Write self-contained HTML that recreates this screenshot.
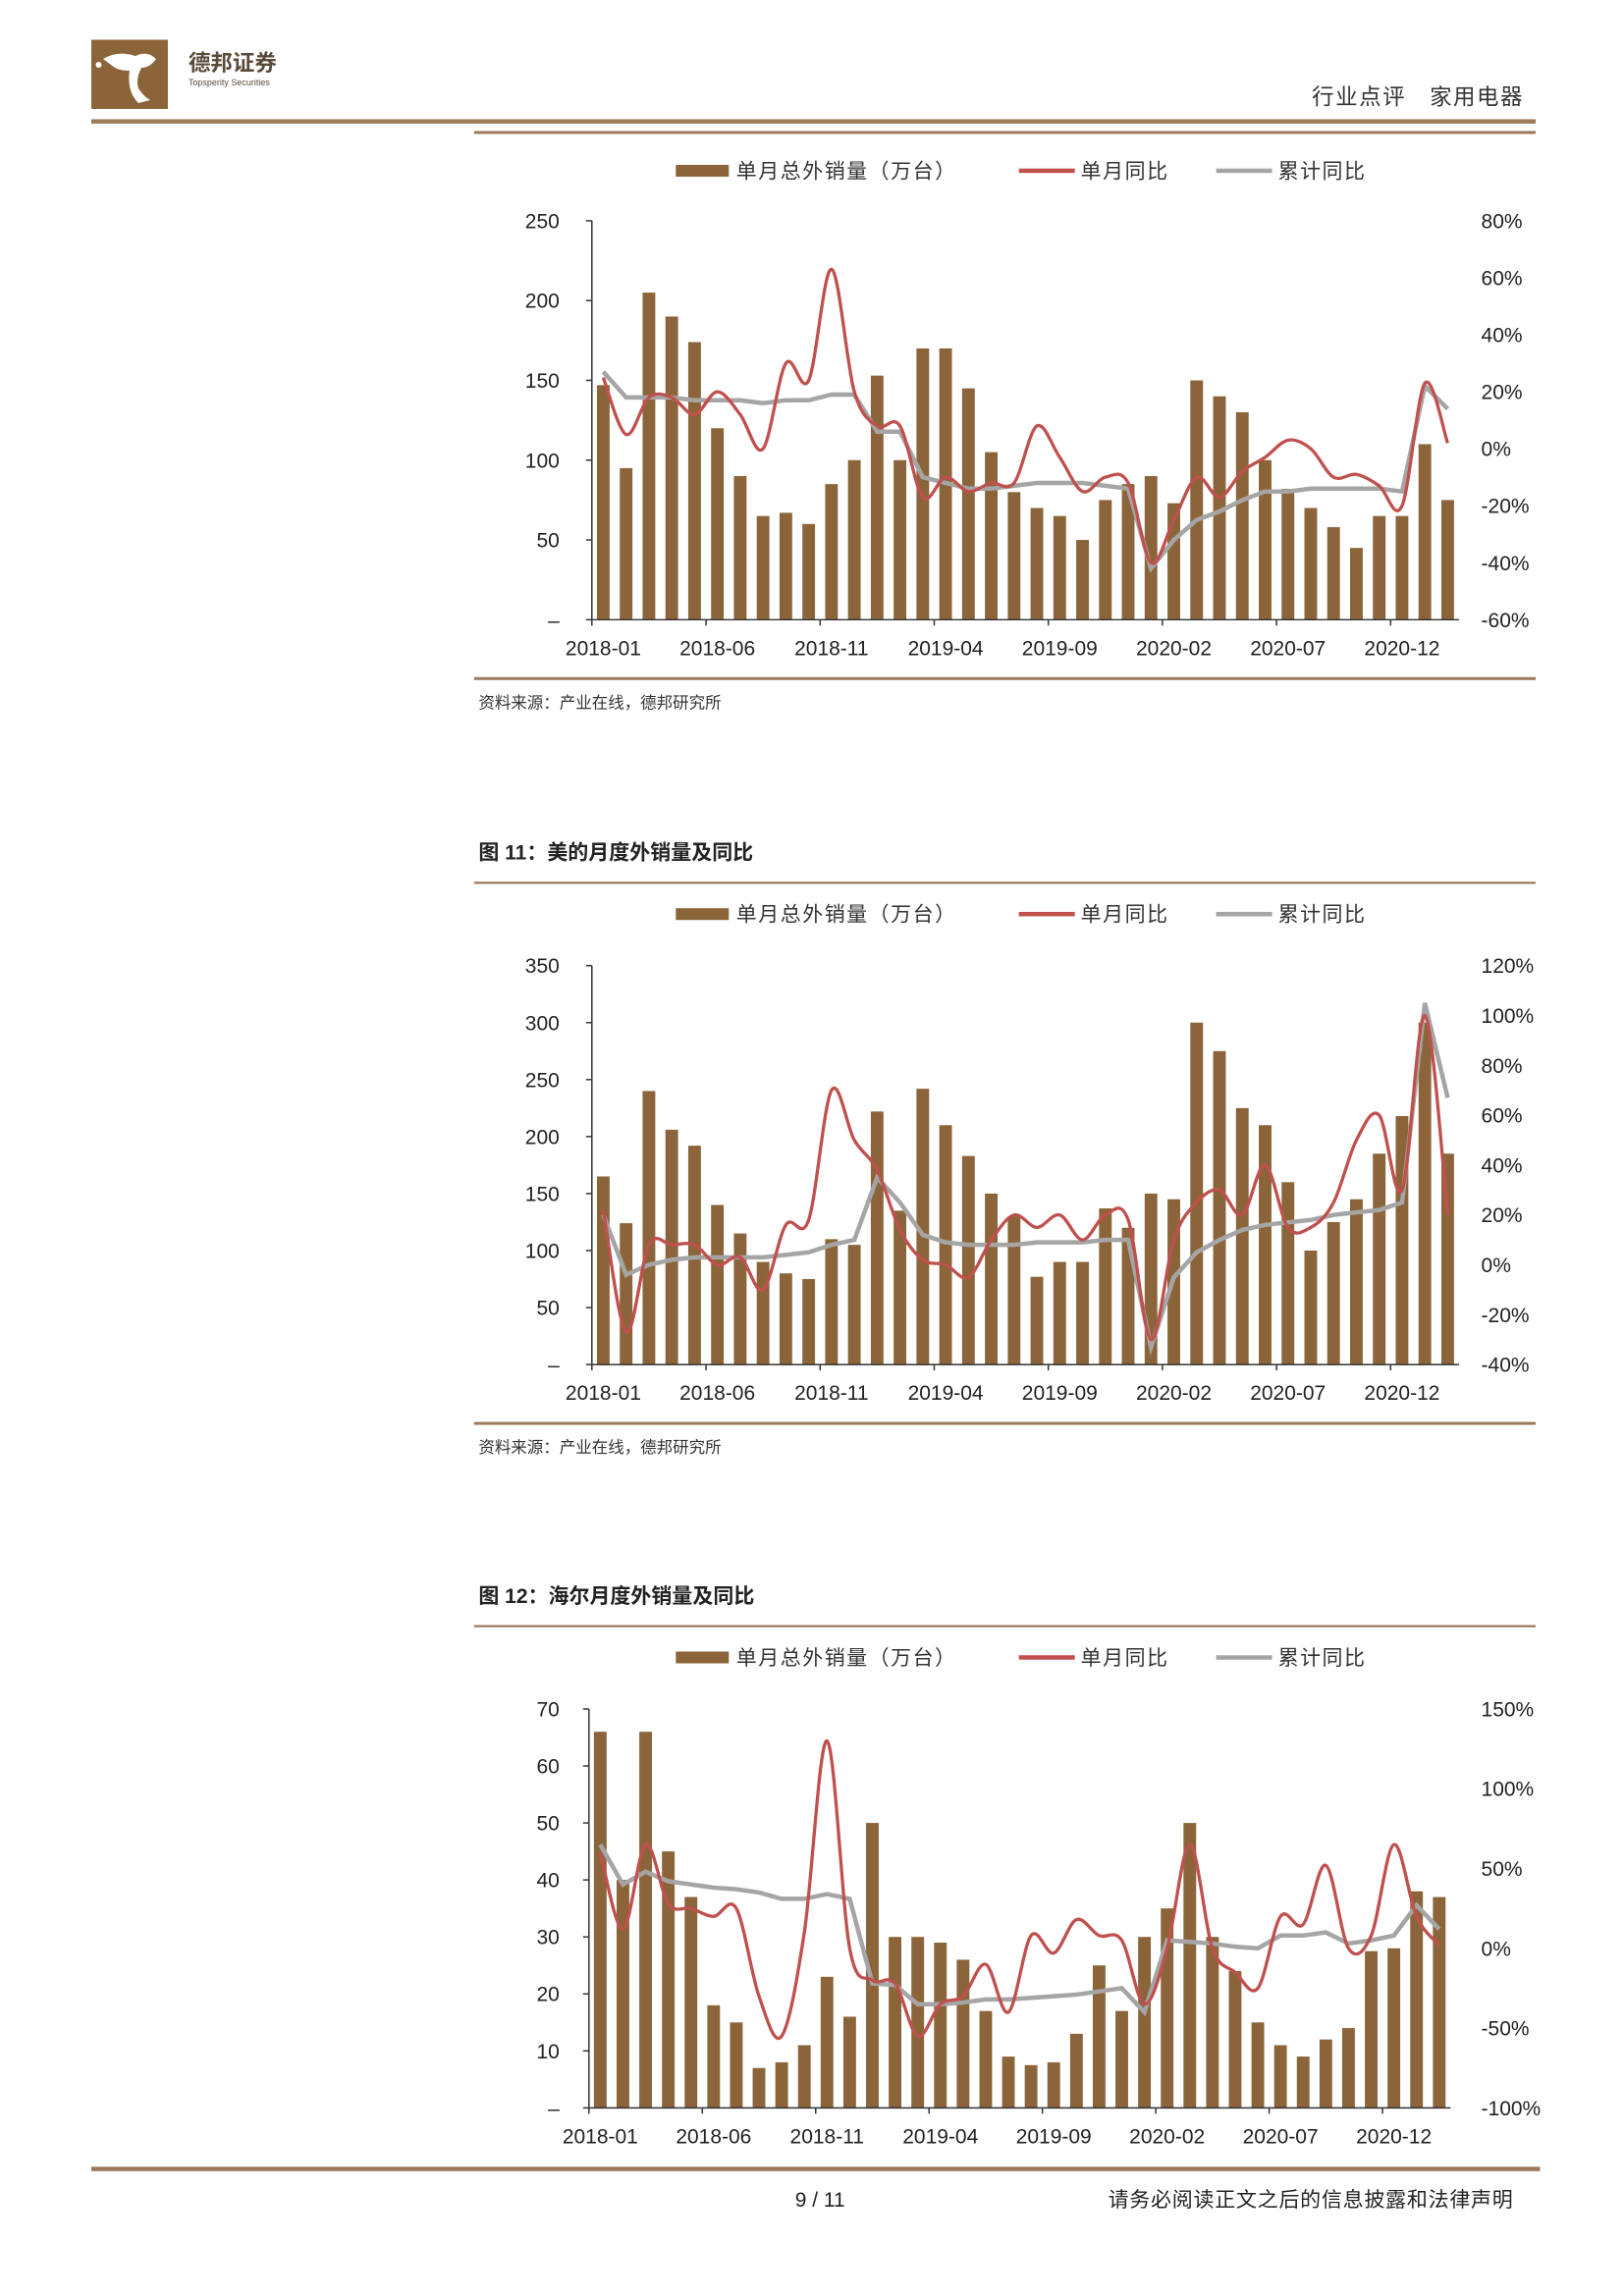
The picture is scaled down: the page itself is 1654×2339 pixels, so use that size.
<!DOCTYPE html>
<html><head><meta charset="utf-8">
<style>
html,body{margin:0;padding:0;background:#fff;overflow:hidden;width:1654px;height:2339px;}
svg{display:block;font-family:"Liberation Sans","Noto Sans CJK SC",sans-serif;}
</style></head>
<body>
<svg id="pg" width="1654" height="2339" viewBox="0 0 1103 1559.8" xmlns="http://www.w3.org/2000/svg">
<g>
  <rect x="62" y="27" width="52" height="47" fill="#8B6539"/>
  <path d="M70 40 q10 -6 22 -2 q8 -4 14 2 q-4 6 -10 6 q-4 8 -2 14 q4 6 8 8 l-8 2 q-8 -8 -6 -22 q-6 0 -10 -2z" fill="#fff"/>
  <circle cx="67" cy="44" r="2" fill="#fff"/>
  <text x="128" y="48" font-size="15" font-weight="bold" fill="#5a4a3a">德邦证券</text>
  <text x="128" y="58" font-size="6" fill="#5a4a3a">Topsperity Securities</text>
  <text x="1035" y="71" font-size="15" fill="#333" text-anchor="end" letter-spacing="1">行业点评　家用电器</text>
  <rect x="62" y="81" width="981" height="3" fill="#9c7a5a"/>
  <rect x="322" y="89" width="721" height="2" fill="#9c7a5a"/>
</g>
<g id="charts"></g>
<g>
  <rect x="62" y="1472" width="984" height="3" fill="#9c7a5a"/>
  <text x="557" y="1499" font-size="14" text-anchor="middle" fill="#222">9 / 11</text>
  <text x="1028" y="1499" font-size="14" text-anchor="end" fill="#222" letter-spacing="0.5">请务必阅读正文之后的信息披露和法律声明</text>
</g>
</svg>
<script>
const xLabels=["2018-01","2018-06","2018-11","2019-04","2019-09","2020-02","2020-07","2020-12"];
const c1Bars=[147,95,205,190,174,120,90,65,67,60,85,100,153,100,170,170,145,105,80,70,65,50,75,85,90,73,150,140,130,100,82,70,58,45,65,65,110,75];
const c1Red=[25,5,18,18,12,20,12,0,30,24,63,20,8,8,-17,-10,-15,-12,-12,8,-3,-15,-10,-12,-40,-25,-10,-17,-8,-3,3,0,-10,-9,-13,-20,23,2];
const c1Gray=[27,18,18,18,17,17,17,16,17,17,19,19,6,6,-10,-12,-14,-14,-13,-12,-12,-12,-13,-14,-42,-32,-25,-22,-18,-15,-15,-14,-14,-14,-14,-15,22,14];
const c1LeftTicks=["–","50","100","150","200","250"];
const c1RightTicks=["-60%","-40%","-20%","0%","20%","40%","60%","80%"];
const c2Bars=[165,124,240,206,192,140,115,90,80,75,110,105,222,135,242,210,183,150,130,77,90,90,137,120,150,145,300,275,225,210,160,100,125,145,185,218,300,185];
const c2Red=[22,-27,8,8,8,0,3,-10,16,18,70,50,38,14,2,0,-5,10,20,15,20,10,20,18,-30,10,25,30,20,40,15,15,25,50,60,30,100,20];
const c2Gray=[20,-4,0,2,3,3,3,3,4,5,8,10,35,25,12,9,8,8,8,9,9,9,10,10,-33,-5,5,10,14,16,17,18,20,21,22,25,105,67];
const c2LeftTicks=["–","50","100","150","200","250","300","350"];
const c2RightTicks=["-40%","-20%","0%","20%","40%","60%","80%","100%","120%"];
const c3Bars=[66,40,66,45,37,18,15,7,8,11,23,16,50,30,30,29,26,17,9,7.5,8,13,25,17,30,35,50,30,24,15,11,9,12,14,27.5,28,38,37];
const c3Red=[60,12,65,28,25,20,25,-30,-55,10,130,0,-20,-22,-55,-35,-30,-10,-40,8,-3,18,8,5,-35,0,65,0,-15,-25,20,15,52,0,8,65,20,2];
const c3Gray=[65,40,48,42,40,38,37,35,31,31,34,31,-22,-23,-35,-35,-34,-32,-32,-31,-30,-29,-27,-25,-40,5,4,3,1,0,8,8,10,3,5,8,27,12];
const c3LeftTicks=["–","10","20","30","40","50","60","70"];
const c3RightTicks=["-100%","-50%","0%","50%","100%","150%"];

const NS="http://www.w3.org/2000/svg";
const root=document.getElementById('charts');
function mk(tag,attrs,parent,txt){const e=document.createElementNS(NS,tag);for(const k in attrs)e.setAttribute(k,attrs[k]);if(txt!==undefined)e.textContent=txt;(parent||root).appendChild(e);return e;}
function smooth(pts){let d="M"+pts[0][0]+" "+pts[0][1];for(let i=0;i<pts.length-1;i++){const p0=pts[i-1]||pts[i],p1=pts[i],p2=pts[i+1],p3=pts[i+2]||p2;const t=1/6;d+=" C"+(p1[0]+(p2[0]-p0[0])*t)+" "+(p1[1]+(p2[1]-p0[1])*t)+" "+(p2[0]-(p3[0]-p1[0])*t)+" "+(p2[1]-(p3[1]-p1[1])*t)+" "+p2[0]+" "+p2[1];}return d;}

function chart(o){
  const g=mk('g',{});
  
  
  if(o.title){const t=mk('text',{x:325,y:o.titleY,'font-size':14,'font-weight':'bold',fill:'#222'},g,o.title);
    mk('rect',{x:322,y:o.titleY+15,width:721,height:1.5,fill:'#9c7a5a'},g);}
  const lg=mk('g',{},g);
  const ly=o.legendY;
  mk('rect',{x:459,y:ly-4,width:36,height:8,fill:'#8B6539'},lg);
  mk('text',{x:500,y:ly+5,'font-size':14,fill:'#333','letter-spacing':'1'},lg,'单月总外销量（万台）');
  mk('rect',{x:692,y:ly-1.5,width:38,height:3,fill:'#C0504D'},lg);
  mk('text',{x:734,y:ly+5,'font-size':14,fill:'#333','letter-spacing':'1'},lg,'单月同比');
  mk('rect',{x:826,y:ly-1.5,width:38,height:3,fill:'#A5A5A5'},lg);
  mk('text',{x:868,y:ly+5,'font-size':14,fill:'#333','letter-spacing':'1'},lg,'累计同比');
  const {x0,band,top,bot,lMax,rMin,rMax}=o;
  const n=o.bars.length;
  const yL=v=>bot-(v/lMax)*(bot-top);
  const yR=v=>bot-(v-rMin)/(rMax-rMin)*(bot-top);
  const xC=i=>x0+band*(i+0.5);
  o.bars.forEach((v,i)=>{const r=mk('rect',{x:xC(i)-4.3,y:yL(v),width:8.6,height:bot-yL(v),fill:'#8B6539'},g);
    });
  mk('line',{x1:x0,y1:top,x2:x0,y2:bot,stroke:'#333','stroke-width':1},g);
  mk('line',{x1:x0,y1:bot,x2:x0+band*n,y2:bot,stroke:'#333','stroke-width':1},g);
  o.lt.forEach((t,i)=>{const v=i*lMax/(o.lt.length-1);const y=yL(v);
    mk('line',{x1:x0-4,y1:y,x2:x0,y2:y,stroke:'#333'},g);
    const e=mk('text',{x:o.lx,y:y+5,'font-size':14,'text-anchor':'end',fill:'#222'},g,t);});
  o.rt.forEach((t,i)=>{const v=rMin+i*(rMax-rMin)/(o.rt.length-1);const y=yR(v);
    const e=mk('text',{x:1006,y:y+5,'font-size':14,fill:'#222'},g,t);});
  xLabels.forEach((t,i)=>{const x=xC(i*5);
    mk('line',{x1:x0+band*i*5,y1:bot,x2:x0+band*i*5,y2:bot+4,stroke:'#333'},g);
    const e=mk('text',{x:x,y:bot+24,'font-size':14,'text-anchor':'middle',fill:'#222'},g,t);});
  const gp=mk('path',{d:"M"+o.gray.map((v,i)=>xC(i)+" "+yR(v)).join(" L"),fill:'none',stroke:'#A5A5A5','stroke-width':3},g);
  
  const rp=mk('path',{d:smooth(o.red.map((v,i)=>[xC(i),yR(v)])),fill:'none',stroke:'#C0504D','stroke-width':2.2},g);
  
  if(o.ruleY){
    mk('rect',{x:322,y:o.ruleY,width:721,height:2,fill:'#9c7a5a'},g);
    const s=mk('text',{x:325,y:o.ruleY+21,'font-size':11,fill:'#333'},g,'资料来源：产业在线，德邦研究所');
    
  }
}
chart({name:'chart-total-exports',legendY:116,x0:402,band:15.5,top:150,bot:421,lMax:250,rMin:-60,rMax:80,bars:c1Bars,red:c1Red,gray:c1Gray,lt:c1LeftTicks,rt:c1RightTicks,lx:380,ruleY:460});
chart({name:'chart-midea-exports',title:'图 11：美的月度外销量及同比',titleY:584,legendY:621,x0:402,band:15.5,top:656,bot:927,lMax:350,rMin:-40,rMax:120,bars:c2Bars,red:c2Red,gray:c2Gray,lt:c2LeftTicks,rt:c2RightTicks,lx:380,ruleY:966});
chart({name:'chart-haier-exports',title:'图 12：海尔月度外销量及同比',titleY:1089,legendY:1126,x0:400,band:15.4,top:1161,bot:1432,lMax:70,rMin:-100,rMax:150,bars:c3Bars,red:c3Red,gray:c3Gray,lt:c3LeftTicks,rt:c3RightTicks,lx:380,ruleY:0});
</script>
</body></html>
